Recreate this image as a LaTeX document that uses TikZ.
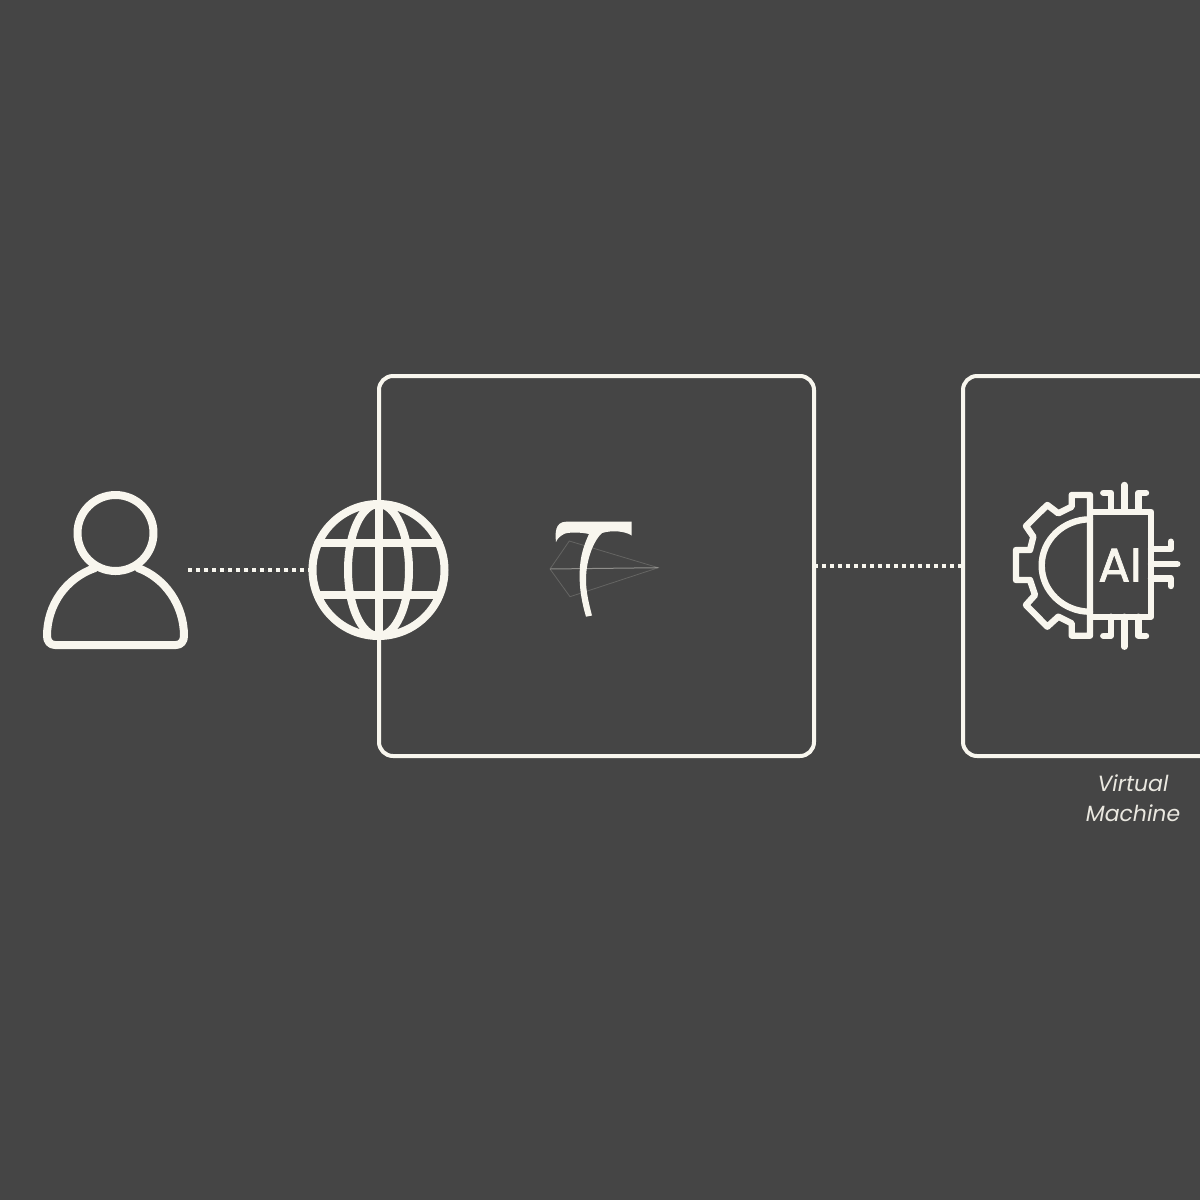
\documentclass[tikz,border=0pt]{standalone}
\usepackage{fontspec}
\setmainfont{Poppins}
\newfontfamily\chipfont[FakeBold=1.6]{Poppins}
\definecolor{panelbg}{HTML}{454545}
\definecolor{cream}{HTML}{F8F6EE}
\tikzset{
	boxnode/.style={draw=cream,line width=2pt,rounded corners=7pt,minimum width=217.5pt,minimum height=190pt,outer sep=0pt},
	iconline/.style={draw=cream,line width=4pt,line cap=round,line join=round},
	chipline/.style={draw=cream,line width=3.2pt,line cap=round,line join=round},
	dotline/.style={draw=cream,line width=2pt,dash pattern=on 2pt off 2pt},
}
\begin{document}
\begin{tikzpicture}[x=0.5pt,y=-0.5pt]
	\useasboundingbox (0,0) rectangle (1200,1200);
	\clip (0,0) rectangle (1200,1200);
	\fill[panelbg] (0,0) rectangle (1200,1200);
	\node[boxnode] (gateway) at (596.5,566) {};
	\node[boxnode] (vmbox) at (1180.5,566) {};
	\node[minimum width=72.5pt,minimum height=79pt,outer sep=0pt] (user) at (115.5,570) {};
	\node[circle,iconline,fill=panelbg,minimum size=66pt,inner sep=0pt] (globe) at (378.5,570) {};
	\draw[dotline] (user.east)--(globe.west);
	\draw[dotline] (gateway.east)--(vmbox.west);
	% person
	\draw[iconline] (115.5,533) circle[radius=38];
	\draw[iconline] (95,568) .. controls (66,578) and (47,605) .. (47,636) .. controls (47,641) and (50,645) .. (55,645) -- (176,645) .. controls (181,645) and (184,641) .. (184,636) .. controls (184,605) and (165,578) .. (138,568);
	% globe
	\draw[iconline] (globe.center) circle[x radius=30.5,y radius=66];
	\draw[iconline] (378.5,504)--(378.5,636);
	\draw[iconline] (318,543)--(439,543);
	\draw[iconline] (318,595)--(439,595);
	% logo
	\draw[draw=cream!18!panelbg,line width=0.4pt] (550,569)--(569.3,541)--(658.3,567.7)--(570,596.7)--cycle;
	\draw[draw=cream!42!panelbg,line width=0.5pt] (550,569)--(658.3,567.7);
	\fill[cream] (556,542) .. controls (555,533) and (555,522) .. (566,521.7) -- (631.7,521.7) -- (631.7,535.5) .. controls (625,531) and (612,530) .. (602,533) .. controls (596,538) and (586,556) .. (586,580) .. controls (586,592) and (589,604) .. (592,615.5) -- (586,616.7) .. controls (582,603) and (579,588) .. (579.7,572) .. controls (580,556) and (584,545) .. (589,534) .. controls (580,532) and (568,532) .. (564,534) .. controls (560,536) and (557,539) .. (556,542) -- cycle;
	% gear and chip
	\draw[chipline] (1090,495)--(1071.7,495)--(1071.7,506.7)--(1058.3,513.3)--(1047.3,505)--(1026,526)--(1033.3,536.7)--(1030,550)--(1016,550)--(1016,580)--(1030,580)--(1035,595)--(1026,605)--(1047.3,626.7)--(1058.3,616.7)--(1071.7,623.3)--(1071.7,635.7)--(1090,635.7)--cycle;
	\draw[chipline] (1090,519.3) arc[start angle=-90,end angle=-270,x radius=48.3,y radius=46.2];
	\draw[chipline] (1090,511.7) rectangle (1151,616.7);
	\draw[chipline] (1124.3,485)--(1124.3,511.7);
	\draw[chipline] (1103.3,492.7)--(1110.7,492.7)--(1110.7,511.7);
	\draw[chipline] (1146,492.7)--(1138.3,492.7)--(1138.3,511.7);
	\draw[chipline] (1124.3,616.7)--(1124.3,646.7);
	\draw[chipline] (1103.3,635.7)--(1110.7,635.7)--(1110.7,616.7);
	\draw[chipline] (1146,635.7)--(1138.3,635.7)--(1138.3,616.7);
	\draw[chipline] (1151,564)--(1177.3,564);
	\draw[chipline] (1151,549)--(1170.7,549)--(1170.7,541.7);
	\draw[chipline] (1151,578.3)--(1170.7,578.3)--(1170.7,586);
	\node[text=cream,inner sep=0pt,font=\chipfont\fontsize{23.5}{23.5}\selectfont] (chiplabel) at (1120,565) {AI};
	\node[text=cream!92!panelbg,align=center,inner sep=0pt,font=\fontsize{11}{15}\selectfont\itshape] (vmlabel) at (1133,798) {Virtual\\Machine};
\end{tikzpicture}
\end{document}
